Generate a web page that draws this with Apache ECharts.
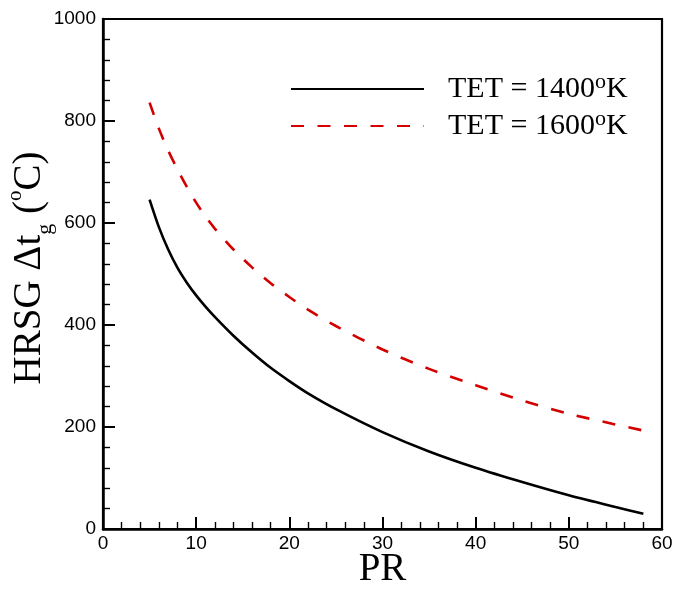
<!DOCTYPE html>
<html>
<head>
<meta charset="utf-8">
<style>
  html, body { margin: 0; padding: 0; background: #fff; }
  #chart { width: 674px; height: 589px; }
</style>
<script src="https://cdn.jsdelivr.net/npm/echarts@6/dist/echarts.min.js"></script>
</head>
<body>
<div id="chart"></div>
<script>
// Pressure ratio samples shared by both curves
const prValues = [5, 6, 7, 8, 9, 10, 11, 12, 14, 16, 18, 20, 22, 25, 30, 35, 40, 45, 50, 55, 58];
// HRSG gas temperature drop (°C) for each turbine entry temperature
const dtTet1400 = [646, 592, 548, 512, 483, 458, 436, 416, 379, 346, 316, 290, 266, 235, 190, 152, 120, 92, 66, 43, 30];
const dtTet1600 = [836, 785, 742, 705, 671, 640, 613, 589, 548, 513, 482, 455, 430, 398, 352, 314, 282, 252, 226, 205, 193];
const seriesNames = ['TET = 1400', 'TET = 1600'];
const xTicks = { min: 0, max: 60, step: 10 };
const yTicks = { min: 0, max: 1000, step: 200 };

const serif = 'Liberation Serif, Times New Roman, serif';
const sans = 'Liberation Sans, Arial, sans-serif';

function pairs(xs, ys) { return xs.map((x, i) => [x, ys[i]]); }

const chart = echarts.init(document.getElementById('chart'), null, { renderer: 'canvas' });

const axisCommon = {
  axisLine: { show: true, onZero: false, lineStyle: { color: '#000', width: 2.5 } },
  axisTick: { show: true, inside: true, length: 12, lineStyle: { color: '#000', width: 2 } },
  minorTick: { show: true, splitNumber: 5, length: 7, lineStyle: { color: '#000', width: 1.4 } },
  splitLine: { show: false },
  minorSplitLine: { show: false },
  axisLabel: { color: '#000', fontFamily: sans, fontSize: 19, formatter: v => String(v) },
  nameMoveOverlap: false
};

chart.setOption({
  animation: false,
  backgroundColor: '#fff',
  grid: {
    left: 103, right: 12, top: 19, bottom: 60,
    containLabel: false, outerBoundsMode: 'none',
    show: true, borderColor: '#000', borderWidth: 2.2, backgroundColor: 'transparent'
  },
  legend: {
    orient: 'vertical',
    left: 290,
    top: 71,
    padding: 0,
    itemWidth: 133,
    itemHeight: 14,
    itemGap: 1,
    itemStyle: { opacity: 0 },
    textStyle: {
      color: '#000',
      padding: [0, 0, 0, 19],
      rich: {
        a: { fontFamily: serif, fontSize: 30, lineHeight: 30, color: '#000' },
        s: { fontFamily: serif, fontSize: 22, lineHeight: 30, color: '#000', padding: [0, 0, 14, 0] }
      }
    },
    formatter: name => '{a|' + name + '}{s|o}{a|K}',
    data: seriesNames,
    selectedMode: false
  },
  xAxis: Object.assign({}, axisCommon, {
    type: 'value',
    min: xTicks.min, max: xTicks.max, interval: xTicks.step,
    axisLabel: Object.assign({}, axisCommon.axisLabel, { margin: 5 }),
    name: 'PR',
    nameLocation: 'middle',
    nameGap: 21,
    nameTextStyle: { fontFamily: serif, fontSize: 39, lineHeight: 39, color: '#000' }
  }),
  yAxis: Object.assign({}, axisCommon, {
    type: 'value',
    min: yTicks.min, max: yTicks.max, interval: yTicks.step,
    axisLabel: Object.assign({}, axisCommon.axisLabel, { margin: 7 }),
    name: '{t|HRSG Δt}{sub|g}{t| (}{sup|o}{t|C)}',
    nameLocation: 'middle',
    nameRotate: 90,
    nameGap: 54,
    nameTextStyle: {
      color: '#000',
      padding: [0, 0, 0, 12],
      rich: {
        t: { fontFamily: serif, fontSize: 39, lineHeight: 39, color: '#000' },
        sub: { fontFamily: serif, fontSize: 22, lineHeight: 39, color: '#000', padding: [32, 0, 0, 0] },
        sup: { fontFamily: serif, fontSize: 21, lineHeight: 39, color: '#000', padding: [0, 0, 29, 0] }
      }
    }
  }),
  series: [
    {
      name: seriesNames[0],
      type: 'line',
      data: pairs(prValues, dtTet1400),
      symbol: 'none',
      smooth: 0.3,
      lineStyle: { color: '#000', width: 2.6, type: 'solid' },
      itemStyle: { color: '#000' }
    },
    {
      name: seriesNames[1],
      type: 'line',
      data: pairs(prValues, dtTet1600),
      symbol: 'none',
      smooth: 0.3,
      lineStyle: { color: '#d40000', width: 2.6, type: [13, 13.5], cap: 'butt' },
      itemStyle: { color: '#d40000' }
    }
  ]
});
</script>
</body>
</html>
